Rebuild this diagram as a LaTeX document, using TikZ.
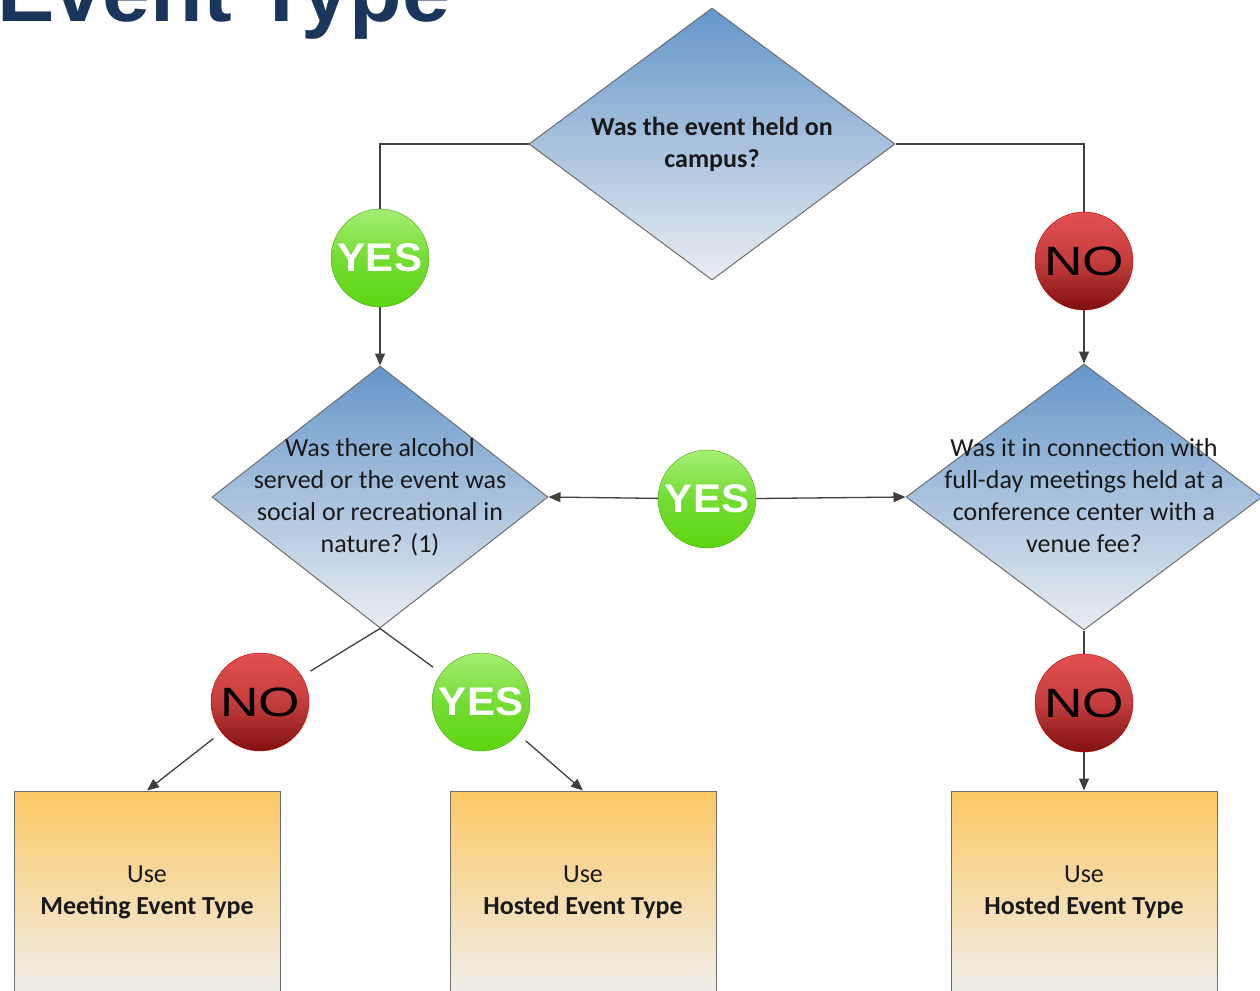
\documentclass[tikz,border=0pt]{standalone}
\usepackage{fontspec}
\setmainfont{Carlito}
\newfontfamily\ballfont{Liberation Sans}
\newfontfamily\titlefont{Liberation Sans}
\usetikzlibrary{shapes.geometric,arrows.meta}
\definecolor{qtop}{RGB}{100,150,202}
\definecolor{qbot}{RGB}{234,237,241}
\definecolor{qline}{RGB}{110,110,110}
\definecolor{qink}{RGB}{25,25,25}
\definecolor{boxtop}{RGB}{252,200,100}
\definecolor{boxbot}{RGB}{240,238,234}
\definecolor{yestop}{RGB}{165,238,115}
\definecolor{yesbot}{RGB}{92,214,16}
\definecolor{notop}{RGB}{226,80,80}
\definecolor{nobot}{RGB}{128,16,16}
\definecolor{lineC}{RGB}{64,64,64}
\definecolor{titleblue}{RGB}{27,54,93}
\newcommand\qtext[1]{\smash{\makebox[0pt]{\raisebox{-7pt}{\begin{tabular}{@{}c@{}}#1\end{tabular}}}}}

\begin{document}
\begin{tikzpicture}[x=1pt, y=1pt, >={Triangle[length=12pt,width=10pt]},
  question/.style = {draw=qline, line width=1pt, diamond, inner sep=0pt, top color=qtop, bottom color=qbot, font=\fontsize{26}{32}\selectfont, text=qink},
  outcome/.style = {draw=qline, line width=1pt, rectangle, inner sep=0pt, minimum width=266pt, minimum height=200pt, top color=boxtop, bottom color=boxbot, font=\fontsize{26}{32}\selectfont, text=qink},
  yesball/.style = {circle, minimum size=98pt, inner sep=0pt, top color=yestop, bottom color=yesbot, middle color=yesbot!85!white, draw=yesbot!80!black, font=\ballfont\bfseries\fontsize{40}{40}\selectfont, text=white},
  noball/.style = {circle, minimum size=98pt, inner sep=0pt, top color=notop, bottom color=nobot, middle color=notop!70!nobot, draw=red!80!black, font=\ballfont\fontsize{41}{41}\selectfont, text=black},
  link/.style = {draw=lineC, line width=1.3pt}]
	\useasboundingbox (0,0) rectangle (1260,-990);
	\node[anchor=base west, font=\titlefont\bfseries\fontsize{86}{86}\selectfont, text=titleblue] (title) at (-6,-22) {Event Type};
	\node[question, minimum width=366pt, minimum height=272pt] (qCampus) at (712,-144) {\qtext{\bfseries Was the event held on\\ \bfseries campus?}};
	\node[question, minimum width=336pt, minimum height=262pt] (qAlcohol) at (380,-497) {\qtext{Was there alcohol\\ served or the event was\\ social or recreational in\\ nature? (1)}};
	\node[question, minimum width=356pt, minimum height=266pt] (qVenue) at (1084,-497) {\qtext{Was it in connection with\\ full-day meetings held at a\\ conference center with a\\ venue fee?}};
	\node[yesball] (yesA) at (380,-258) {\scalebox{1.05}[1]{YES}};
	\node[noball] (noA) at (1084,-261) {\scalebox{1.3}[1]{NO}};
	\node[yesball] (yesB) at (707,-499) {\scalebox{1.05}[1]{YES}};
	\node[noball] (noC) at (260,-702) {\scalebox{1.3}[1]{NO}};
	\node[yesball] (yesC) at (481,-702) {\scalebox{1.05}[1]{YES}};
	\node[noball] (noD) at (1084,-703) {\scalebox{1.3}[1]{NO}};
	\node[outcome] (mtgBox) at (147,-891) {\qtext{Use\\ \bfseries Meeting Event Type}};
	\node[outcome] (hostA) at (583,-891) {\qtext{Use\\ \bfseries Hosted Event Type}};
	\node[outcome] (hostB) at (1084,-891) {\qtext{Use\\ \bfseries Hosted Event Type}};
	\draw[link] (qCampus.west) -| (yesA.north);
	\draw[link,->] (yesA) -- (qAlcohol.north);
	\draw[link] (qCampus.east) -| (noA.north);
	\draw[link,->] (noA) -- (qVenue.north);
	\draw[link,->] (yesB) -- (qAlcohol.east);
	\draw[link,->] (yesB) -- (qVenue.west);
	\draw[link, shorten >=10pt] (qAlcohol.south) -- (noC);
	\draw[link, shorten >=10pt] (qAlcohol.south) -- (yesC);
	\draw[link,->, shorten <=10pt] (noC) -- (mtgBox.north);
	\draw[link,->, shorten <=10pt] (yesC) -- (hostA.north);
	\draw[link] (qVenue.south) -- (noD);
	\draw[link,->] (noD) -- (hostB.north);
\end{tikzpicture}
\end{document}
